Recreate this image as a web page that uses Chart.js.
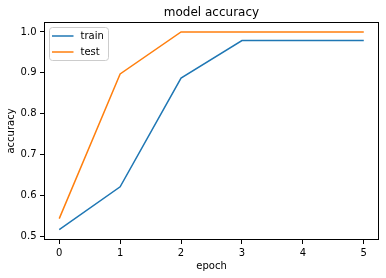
<!DOCTYPE html>
<html>
<head>
<meta charset="utf-8">
<script src="https://cdn.jsdelivr.net/npm/chart.js@4/dist/chart.umd.min.js"></script>
<style>
html,body{margin:0;padding:0;background:#fff;}
canvas{display:block;}
</style>
</head>
<body>
<canvas id="c" width="386" height="278"></canvas>
<script>
const epochs = [0, 1, 2, 3, 4, 5];
const trainAcc = [0.516, 0.621, 0.887, 0.979, 0.979, 0.979];
const testAcc = [0.543, 0.897, 1.0, 1.0, 1.0, 1.0];
const xTicks = [0, 1, 2, 3, 4, 5];
const yTicks = [0.5, 0.6, 0.7, 0.8, 0.9, 1.0];
const seriesNames = ['train', 'test'];
const seriesColors = ['#1f77b4', '#ff7f0e'];
const titleText = 'model accuracy';

const FONT = 'DejaVu Sans';

const frameAndExtras = {
  id: 'frameAndExtras',
  afterDraw(chart) {
    const ctx = chart.ctx;
    const a = chart.chartArea;
    ctx.save();
    // frame
    ctx.strokeStyle = '#000';
    ctx.lineWidth = 1;
    const l = Math.round(a.left) + 0.5, t = Math.round(a.top) + 0.5;
    const r = Math.round(a.right) - 0.5, b = Math.round(a.bottom) - 0.5;
    ctx.strokeRect(l, t, r - l, b - t);
    // title
    ctx.fillStyle = '#000';
    ctx.font = '12px "' + FONT + '"';
    ctx.textAlign = 'center';
    ctx.textBaseline = 'middle';
    ctx.fillText(titleText, (a.left + a.right) / 2, 13);
    // legend
    const bx = a.left + 5.5, by = a.top + 5.5, bw = 59, bh = 33, rad = 3;
    ctx.beginPath();
    ctx.moveTo(bx + rad, by);
    ctx.lineTo(bx + bw - rad, by);
    ctx.arcTo(bx + bw, by, bx + bw, by + rad, rad);
    ctx.lineTo(bx + bw, by + bh - rad);
    ctx.arcTo(bx + bw, by + bh, bx + bw - rad, by + bh, rad);
    ctx.lineTo(bx + rad, by + bh);
    ctx.arcTo(bx, by + bh, bx, by + bh - rad, rad);
    ctx.lineTo(bx, by + rad);
    ctx.arcTo(bx, by, bx + rad, by, rad);
    ctx.closePath();
    ctx.fillStyle = 'rgba(255,255,255,0.8)';
    ctx.fill();
    ctx.strokeStyle = '#cccccc';
    ctx.stroke();
    ctx.font = '10px "' + FONT + '"';
    ctx.textAlign = 'left';
    ctx.textBaseline = 'middle';
    chart.data.datasets.forEach((ds, i) => {
      const y = by + 8.5 + i * 16;
      ctx.strokeStyle = ds.borderColor;
      ctx.lineWidth = 1.5;
      ctx.beginPath();
      ctx.moveTo(bx + 2.5, y);
      ctx.lineTo(bx + 24, y);
      ctx.stroke();
      ctx.fillStyle = '#000';
      ctx.fillText(ds.label, bx + 31, y);
    });
    ctx.restore();
  }
};

const datasets = [trainAcc, testAcc].map((vals, i) => ({
  label: seriesNames[i],
  data: epochs.map((e, j) => ({x: e, y: vals[j]})),
  borderColor: seriesColors[i],
  backgroundColor: seriesColors[i],
  borderWidth: 1.5,
  pointRadius: 0,
  tension: 0,
  fill: false
}));

new Chart(document.getElementById('c'), {
  type: 'line',
  data: {datasets},
  options: {
    responsive: false,
    animation: false,
    layout: {padding: {left: 0, right: 7, top: 22, bottom: 0}},
    plugins: {legend: {display: false}, title: {display: false}, tooltip: {enabled: false}},
    scales: {
      x: {
        type: 'linear',
        min: -0.25,
        max: 5.25,
        afterBuildTicks(s) { s.ticks = xTicks.map(v => ({value: v})); },
        afterFit(s) { s.height = 38; },
        border: {display: false},
        grid: {drawOnChartArea: false, drawTicks: true, tickLength: 4, color: '#000', lineWidth: 1},
        ticks: {color: '#000', padding: 3, font: {family: FONT, size: 10}, maxRotation: 0,
          callback: v => String(v)},
        title: {display: true, text: 'epoch', color: '#000', font: {family: FONT, size: 10}, padding: {top: 0, bottom: 6}}
      },
      y: {
        type: 'linear',
        min: 0.4907,
        max: 1.0243,
        afterBuildTicks(s) { s.ticks = yTicks.map(v => ({value: v})); },
        afterFit(s) { s.width = 44; },
        border: {display: false},
        grid: {drawOnChartArea: false, drawTicks: true, tickLength: 4, color: '#000', lineWidth: 1},
        ticks: {color: '#000', padding: 3.5, font: {family: FONT, size: 10},
          callback: v => v.toFixed(1)},
        title: {display: true, text: 'accuracy', color: '#000', font: {family: FONT, size: 10}, padding: {top: 5, bottom: 0}}
      }
    }
  },
  plugins: [frameAndExtras]
});
</script>
</body>
</html>
